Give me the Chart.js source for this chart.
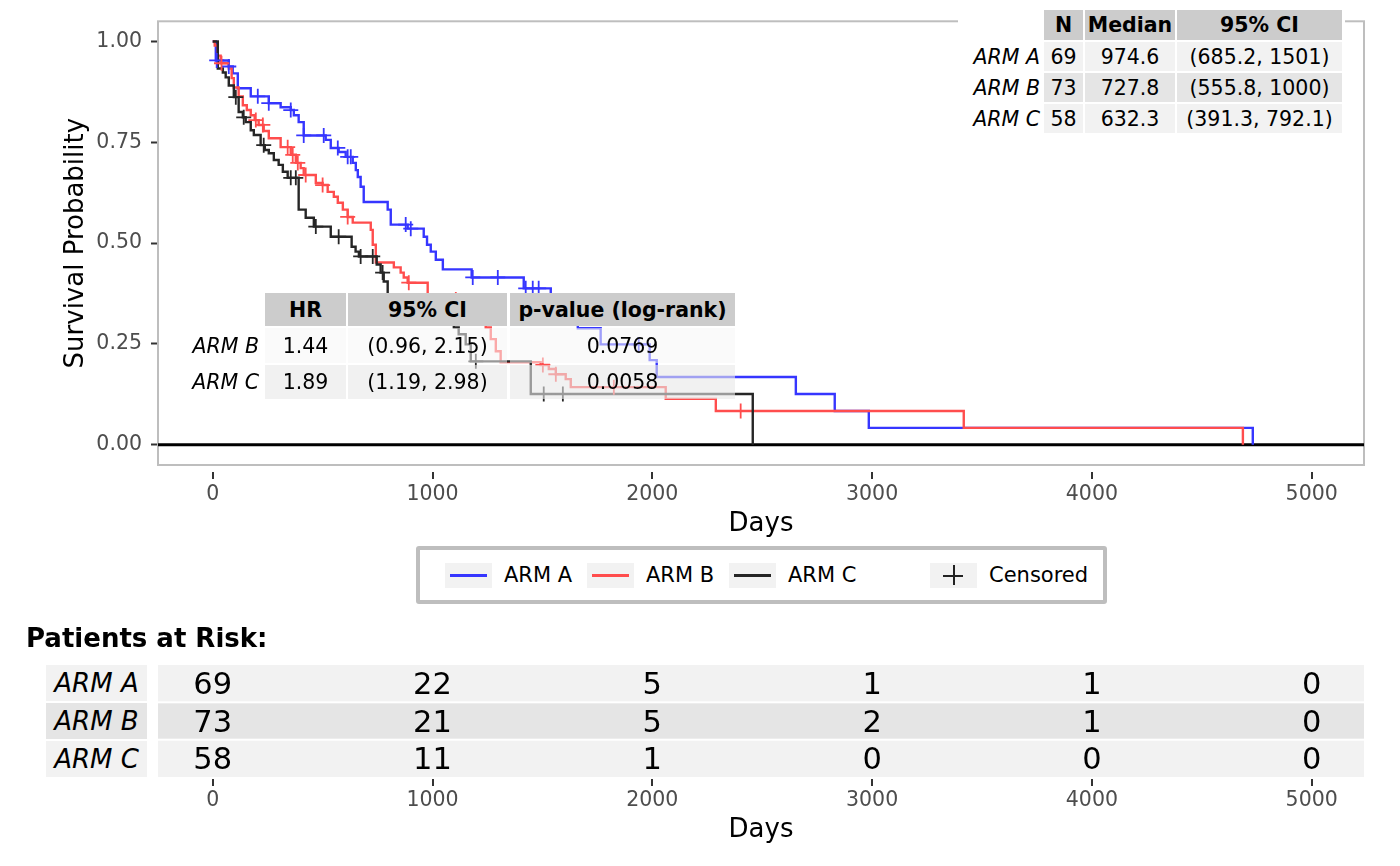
<!DOCTYPE html>
<html><head><meta charset="utf-8">
<script src="https://cdn.jsdelivr.net/npm/chart.js@4.4.1/dist/chart.umd.min.js"></script>
<style>
html,body{margin:0;padding:0;background:#fff;}
body{width:1400px;height:866px;position:relative;overflow:hidden;font-family:'DejaVu Sans',sans-serif;}
.cell{position:absolute;display:flex;align-items:center;justify-content:center;font-size:20.5px;color:#000;white-space:nowrap;box-sizing:border-box;}
.hdr{background:#cccccc;font-weight:bold;}
.lab{justify-content:flex-end;font-style:italic;}
canvas{position:absolute;left:0;}
</style></head><body>
<canvas id="km" width="1400" height="540" style="top:0"></canvas>
<canvas id="risk" width="1400" height="196" style="top:650px"></canvas>
<div id="overlay"></div>
<script>
// ---------------- data ----------------
const armNames = ['ARM A', 'ARM B', 'ARM C'];

const timesA = [0, 14, 73, 91, 114, 173, 255, 309, 355, 369, 391, 414, 514, 537, 573, 605, 637, 651, 660, 673, 687, 796, 810, 887, 960, 975, 992, 1015, 1047, 1178, 1415, 1538, 1661, 1765, 1988, 2020, 2653, 2830, 2985, 4732];
const survA  = [1, 0.953, 0.938, 0.921, 0.884, 0.864, 0.847, 0.837, 0.830, 0.817, 0.800, 0.767, 0.756, 0.736, 0.726, 0.714, 0.699, 0.681, 0.664, 0.640, 0.602, 0.583, 0.546, 0.536, 0.516, 0.496, 0.479, 0.459, 0.435, 0.415, 0.388, 0.348, 0.289, 0.249, 0.210, 0.168, 0.126, 0.084, 0.042, 0];
const censorA = [18, 73, 205, 255, 355, 414, 505, 569, 614, 628, 878, 901, 1183, 1297, 1424, 1456, 1483, 1938];

const timesB = [0, 9, 23, 36, 73, 86, 96, 118, 137, 155, 173, 191, 209, 232, 255, 309, 355, 378, 400, 414, 469, 500, 523, 551, 569, 592, 614, 637, 719, 728, 742, 824, 855, 869, 887, 978, 1242, 1265, 1288, 1310, 1492, 1529, 1561, 1606, 1629, 2061, 2289, 3417, 4687];
const survB  = [1, 0.990, 0.965, 0.946, 0.933, 0.909, 0.886, 0.864, 0.842, 0.830, 0.817, 0.805, 0.793, 0.778, 0.760, 0.738, 0.719, 0.699, 0.686, 0.669, 0.649, 0.644, 0.627, 0.615, 0.600, 0.583, 0.565, 0.551, 0.533, 0.496, 0.452, 0.440, 0.427, 0.415, 0.402, 0.360, 0.291, 0.262, 0.232, 0.205, 0.198, 0.188, 0.175, 0.163, 0.143, 0.114, 0.084, 0.042, 0];
const censorB = [40, 196, 228, 341, 364, 387, 423, 500, 614, 892, 1106, 1502, 1561, 1825, 2402];

const timesC = [0, 23, 46, 59, 73, 96, 118, 137, 150, 173, 187, 218, 237, 255, 278, 300, 319, 341, 391, 423, 460, 537, 632, 650, 665, 746, 764, 778, 796, 901, 1001, 1097, 1119, 1151, 1174, 1447, 2457];
const survC  = [1, 0.933, 0.923, 0.911, 0.891, 0.862, 0.825, 0.812, 0.800, 0.780, 0.768, 0.743, 0.731, 0.723, 0.706, 0.694, 0.677, 0.662, 0.583, 0.563, 0.541, 0.516, 0.491, 0.479, 0.467, 0.447, 0.427, 0.405, 0.370, 0.348, 0.316, 0.291, 0.274, 0.249, 0.207, 0.126, 0];
const censorC = [105, 141, 232, 355, 378, 469, 573, 673, 728, 773, 1197, 1506, 1593];

const summaryN = [69, 73, 58];
const summaryMedian = ['974.6', '727.8', '632.3'];
const summaryCI = ['(685.2, 1501)', '(555.8, 1000)', '(391.3, 792.1)'];
const summaryHeaders = ['N', 'Median', '95% CI'];

const hrArms = ['ARM B', 'ARM C'];
const hrValues = ['1.44', '1.89'];
const hrCI = ['(0.96, 2.15)', '(1.19, 2.98)'];
const hrP = ['0.0769', '0.0058'];
const hrHeaders = ['HR', '95% CI', 'p-value (log-rank)'];

const riskTimes = [0, 1000, 2000, 3000, 4000, 5000];
const riskA = [69, 22, 5, 1, 1, 0];
const riskB = [73, 21, 5, 2, 1, 0];
const riskC = [58, 11, 1, 0, 0, 0];

const xTicks = [0, 1000, 2000, 3000, 4000, 5000];
const yTicks = [0, 0.25, 0.5, 0.75, 1];

// ---------------- style ----------------
const armColors = ['#3636ff', '#ff4d4d', '#262626'];
const xMin = -249, xMax = 5238, yMin = -0.05, yMax = 1.05;

Chart.defaults.font.family = "'DejaVu Sans', sans-serif";

function survAt(times, surv, t) {
  let s = 1;
  for (let i = 0; i < times.length; i++) { if (times[i] <= t) s = surv[i]; else break; }
  return s;
}

const arms = [
  {times: timesA, surv: survA, cens: censorA},
  {times: timesB, surv: survB, cens: censorB},
  {times: timesC, surv: survC, cens: censorC}
];

const censorSets = [2, 1, 0].map(k => ({
  type: 'scatter',
  data: arms[k].cens.map(t => ({x: t, y: survAt(arms[k].times, arms[k].surv, t)})),
  pointStyle: 'cross', pointRadius: 7.5, pointBorderWidth: 1.8,
  borderColor: armColors[k], backgroundColor: armColors[k], showLine: false
}));
const lineSets = [2, 1, 0].map(k => ({
  type: 'line',
  data: arms[k].times.map((t, i) => ({x: t, y: arms[k].surv[i]})),
  stepped: 'before', borderColor: armColors[k], borderWidth: 2.4, pointRadius: 0, fill: false, tension: 0
}));

function drawXTicks(chart, g0, g1) {
  const {ctx, chartArea: a, scales: {x}} = chart;
  ctx.save(); ctx.strokeStyle = '#333'; ctx.lineWidth = 2;
  xTicks.forEach(v => {
    const px = Math.round(x.getPixelForValue(v));
    ctx.beginPath(); ctx.moveTo(px, a.bottom + g0); ctx.lineTo(px, a.bottom + g1); ctx.stroke();
  });
  ctx.restore();
}

const kmPlugin = {
  id: 'kmFrame',
  beforeDatasetsDraw(chart) {
    const {ctx, chartArea: a, scales: {y}} = chart;
    ctx.save();
    ctx.strokeStyle = '#bebebe'; ctx.lineWidth = 2;
    ctx.strokeRect(a.left, a.top, a.right - a.left, a.bottom - a.top);
    const y0 = y.getPixelForValue(0);
    ctx.strokeStyle = '#000'; ctx.lineWidth = 3;
    ctx.beginPath(); ctx.moveTo(a.left, y0); ctx.lineTo(a.right, y0); ctx.stroke();
    ctx.restore();
  },
  afterDraw(chart) { drawXTicks(chart, 7, 14); }
};

const xTickCfg = {color: '#4d4d4d', font: {size: 20.5}, maxRotation: 0, autoSkip: false, callback: v => String(v)};

const km = new Chart(document.getElementById('km'), {
  type: 'line',
  data: {datasets: censorSets.concat(lineSets)},
  options: {
    responsive: false, animation: false, devicePixelRatio: 1, events: [],
    layout: {padding: {left: 0, right: 36, top: 21, bottom: 0}, autoPadding: false},
    plugins: {legend: {display: false}, tooltip: {enabled: false}},
    scales: {
      x: {
        type: 'linear', min: xMin, max: xMax,
        afterBuildTicks: s => { s.ticks = xTicks.map(v => ({value: v})); },
        afterFit: s => { s.height = 75; },
        grid: {display: false, drawTicks: false}, border: {display: false},
        ticks: Object.assign({padding: 17}, xTickCfg),
        title: {display: true, text: 'Days', color: '#000', font: {size: 26}, padding: 0}
      },
      y: {
        type: 'linear', min: yMin, max: yMax,
        afterBuildTicks: s => { s.ticks = yTicks.map(v => ({value: v})); },
        afterFit: s => { s.width = 158; },
        grid: {display: true, drawOnChartArea: false, drawTicks: true, tickLength: 7, tickColor: '#333', tickWidth: 2},
        border: {display: false},
        ticks: {color: '#4d4d4d', font: {size: 20.5}, padding: 9, autoSkip: false, callback: v => Number(v).toFixed(2)},
        title: {display: true, text: 'Survival Probability', color: '#000', font: {size: 26}, padding: {top: 61, bottom: 0}}
      }
    }
  },
  plugins: [kmPlugin]
});

const riskRows = [riskA, riskB, riskC];
const bandColors = ['#f2f2f2', '#e5e5e5', '#f2f2f2'];
function bandPx(chart, i) {
  const y = chart.scales.y;
  return {top: y.getPixelForValue(i + 0.5) + (i > 0 ? 1 : 0), bottom: y.getPixelForValue(i + 1.5) - (i < 2 ? 1 : 0)};
}
const riskPlugin = {
  id: 'riskBands',
  beforeDatasetsDraw(chart) {
    const {ctx, chartArea: a} = chart;
    riskRows.forEach((r, i) => {
      const b = bandPx(chart, i);
      ctx.fillStyle = bandColors[i];
      ctx.fillRect(a.left, b.top, a.right - a.left, b.bottom - b.top);
    });
  },
  afterDraw(chart) { drawXTicks(chart, 2, 9); }
};

const risk = new Chart(document.getElementById('risk'), {
  type: 'line',
  data: {datasets: []},
  options: {
    responsive: false, animation: false, devicePixelRatio: 1, events: [],
    layout: {padding: {left: 158, right: 36, top: 15, bottom: 0}, autoPadding: false},
    plugins: {legend: {display: false}, tooltip: {enabled: false}},
    scales: {
      x: {
        type: 'linear', min: xMin, max: xMax,
        afterBuildTicks: s => { s.ticks = xTicks.map(v => ({value: v})); },
        afterFit: s => { s.height = 69; },
        grid: {display: false, drawTicks: false}, border: {display: false},
        ticks: Object.assign({padding: 11}, xTickCfg),
        title: {display: true, text: 'Days', color: '#000', font: {size: 26}, padding: 0}
      },
      y: {type: 'linear', min: 0.5, max: 3.5, reverse: true, display: false}
    }
  },
  plugins: [riskPlugin]
});

// ---------------- HTML overlay (tables, legend) ----------------
const ov = document.getElementById('overlay');
function box(left, top, w, h, text, cls, extra) {
  const d = document.createElement('div');
  d.className = 'cell ' + (cls || '');
  d.style.left = left + 'px'; d.style.top = top + 'px';
  d.style.width = w + 'px'; d.style.height = h + 'px';
  if (extra) Object.assign(d.style, extra);
  if (text !== null && text !== undefined) d.textContent = text;
  ov.appendChild(d);
  return d;
}

// summary table (top right)
box(958, 0, 387, 142, null, '', {background: '#fff'});
const sCols = [[1044, 39], [1085, 90], [1177, 165]];
summaryHeaders.forEach((h, j) => box(sCols[j][0], 10, sCols[j][1], 30, h, 'hdr'));
const sRowTop = [42, 73, 104];
const sRowBg = ['#f2f2f2', '#e5e5e5', '#f2f2f2'];
armNames.forEach((nm, i) => {
  box(958, sRowTop[i], 82, 29, nm, 'lab');
  const vals = [summaryN[i], summaryMedian[i], summaryCI[i]];
  vals.forEach((v, j) => box(sCols[j][0], sRowTop[i], sCols[j][1], 29, String(v), '', {background: sRowBg[i]}));
});

// hazard ratio table
const hCols = [[265, 81], [348, 159], [510, 225]];
hrHeaders.forEach((h, j) => box(hCols[j][0], 293, hCols[j][1], 33, h, 'hdr'));
const hRowTop = [328, 365], hRowH = [35, 34];
const hRowBg = ['rgba(246,246,246,0.55)', 'rgba(232,232,232,0.6)'];
hrArms.forEach((nm, i) => {
  box(160, hRowTop[i], 99, hRowH[i], nm, 'lab');
  [hrValues[i], hrCI[i], hrP[i]].forEach((v, j) => box(hCols[j][0], hRowTop[i], hCols[j][1], hRowH[i], v, '', {background: hRowBg[i]}));
});

// legend
box(416, 546, 691, 58, null, '', {border: '4px solid #bebebe', borderRadius: '3px', background: '#fff'});
const legendKeys = [445, 587, 729, 930];
const legendLabels = armNames.concat(['Censored']);
legendLabels.forEach((lab, k) => {
  const kx = legendKeys[k];
  box(kx, 563, 47, 25, null, '', {background: '#f2f2f2'});
  if (k < 3) {
    box(kx + 5, 574, 37, 2.5, null, '', {background: armColors[k]});
  } else {
    box(kx + 13, 574.5, 20, 2, null, '', {background: '#222'});
    box(kx + 22.5, 565, 2, 20, null, '', {background: '#222'});
  }
  box(kx + 59, 561, 110, 28, lab, '', {justifyContent: 'flex-start', fontSize: '21px'});
});

// patients at risk
box(26, 623, 400, 30, 'Patients at Risk:', '', {justifyContent: 'flex-start', fontWeight: 'bold', fontSize: '26px'});
const rTop = 650;
riskRows.forEach((row, i) => {
  const b = bandPx(risk, i);
  box(46, rTop + b.top, 101, b.bottom - b.top, armNames[i], '', {background: bandColors[i], fontStyle: 'italic', fontSize: '26px'});
  row.forEach((n, j) => {
    const cx = risk.scales.x.getPixelForValue(riskTimes[j]);
    const cy = rTop + risk.scales.y.getPixelForValue(i + 1);
    box(cx - 40, cy - 18, 80, 36, String(n), '', {fontSize: '30.5px'});
  });
});
</script>
</body></html>
